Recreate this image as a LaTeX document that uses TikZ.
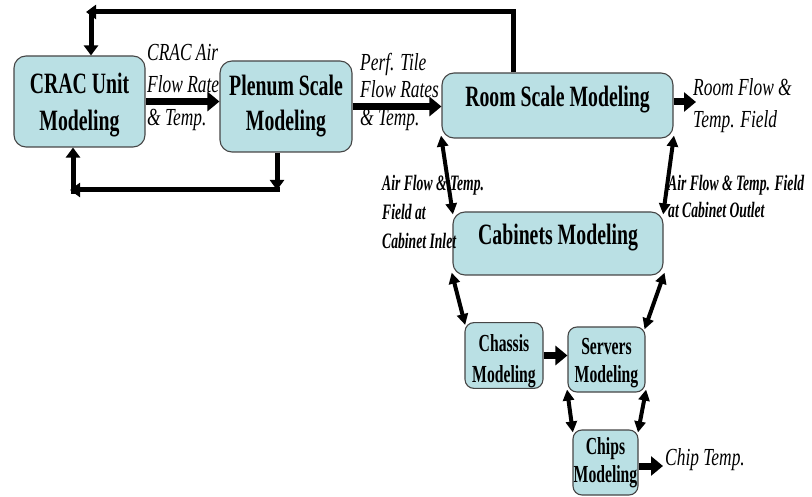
\documentclass[tikz,border=0pt]{standalone}
\usepackage{fontspec}
\setmainfont{Liberation Serif}
% condensed Times-metric faces for the block titles and the flow notes
\newfontfamily\boxfont[FakeStretch=0.67]{Liberation Serif}
\newfontfamily\smallboxfont[FakeStretch=0.64]{Liberation Serif}
\newfontfamily\labelfont[FakeStretch=0.71]{Liberation Serif}
\newfontfamily\notefont[FakeStretch=0.62]{Liberation Serif}
\usetikzlibrary{arrows.meta}
\definecolor{boxfill}{RGB}{186,224,228}
\definecolor{boxline}{RGB}{70,70,70}
% extra room above the first line, to lower two-line titles in their blocks
\newcommand\toppad[1]{\rule{0pt}{#1}}

\begin{document}
\begin{tikzpicture}[x=1pt,y=-1pt,
  block/.style={draw=boxline, line width=1.1pt, fill=boxfill, inner sep=0pt, align=center},
  bigblock/.style={block, rounded corners=12pt,
    font=\boxfont\bfseries\fontsize{29.5}{#1}\selectfont},
  smallblock/.style={block, rounded corners=9pt,
    font=\smallboxfont\bfseries\fontsize{24.5}{#1}\selectfont},
  note/.style={inner sep=0pt, align=left, anchor=north west,
    font=\labelfont\itshape\fontsize{24.5}{#1}\selectfont},
  sidenote/.style={inner sep=0pt, align=left, anchor=north west,
    font=\notefont\bfseries\itshape\fontsize{22}{#1}\selectfont},
  flow/.style={line width=7pt, -{Triangle[length=12pt,width=19pt]}},
  loop/.style={line width=5pt, -{Triangle[length=10pt,width=14pt]}},
  link/.style={line width=4pt, shorten <=-3pt, shorten >=-3pt,
    {Triangle[length=11pt,width=11pt]}-{Triangle[length=11pt,width=11pt]}}
]
\useasboundingbox (0,0) rectangle (812,497);

% modelling blocks
\node[bigblock=37, minimum width=131pt, minimum height=91pt] (crac) at (79.5,101.5)
  {\toppad{27.5pt}CRAC Unit\\Modeling};
\node[bigblock=35, minimum width=132pt, minimum height=91pt] (plenum) at (286,106.5)
  {Plenum Scale\\Modeling};
\node[bigblock=35, minimum width=231pt, minimum height=65pt, text height=12pt, text depth=9pt]
  (room) at (557.5,105.5) {Room Scale Modeling};
\node[bigblock=35, minimum width=210pt, minimum height=63pt, text height=12pt, text depth=9pt]
  (cabinets) at (558,243.5) {Cabinets Modeling};
\node[smallblock=31, minimum width=78pt, minimum height=65pt] (chassis) at (504,355.5)
  {\toppad{29.4pt}Chassis\\Modeling};
\node[smallblock=28, minimum width=77pt, minimum height=65pt] (servers) at (606.5,359.5)
  {\toppad{24.4pt}Servers\\Modeling};
\node[smallblock=28, minimum width=65pt, minimum height=65pt] (chips) at (605.5,462.5)
  {Chips\\Modeling};

% bends and free ends of the connectors
\coordinate (upR) at (513,12);
\coordinate (upL) at (91,12);
\coordinate (upTip) at (86,12);
\coordinate (lowR) at (277,190);
\coordinate (lowRedge) at (279.5,190);
\coordinate (lowL) at (73,194);
\coordinate (lowTip) at (70,190);
\coordinate (roomOut) at (696,102);
\coordinate (chipOut) at (663,466);

% forward chain
\draw[flow] (crac.east) -- (crac.east -| plenum.west);
\draw[flow] (plenum.east) -- (plenum.east -| room.west);
\draw[flow] (room.east |- roomOut) -- (roomOut);
\draw[flow] (chassis.east) -- (chassis.east -| servers.west);
\draw[flow] (chips.east |- chipOut) -- (chipOut);

% feedback loops to the CRAC unit
\draw[loop] (upR |- room.north) -- (upR) -- (upTip);
\draw[loop] (upL) -- (upL |- crac.north);
\draw[loop] (lowR |- plenum.south) -- (lowR);
\draw[loop] (lowRedge) -- (lowTip);
\draw[loop] (lowL) -- (lowL |- crac.south);

% two-way couplings between scales
\draw[link] (room.south west) -- (cabinets.north west);
\draw[link] (room.south east) -- (cabinets.north east);
\draw[link] (cabinets.south west) -- (chassis.north west);
\draw[link] (cabinets.south east) -- (servers.north east);
\draw[link] (servers.south west) -- (chips.north west);
\draw[link] (servers.south east) -- (chips.north east);

% exchanged quantities
\node[note=32.5] (cracflow) at (147,43.6) {CRAC Air\\Flow Rate\\\& Temp.};
\node[note=27.5] (tileflow) at (360,52.6) {Perf. Tile\\Flow Rates\\\& Temp.};
\node[note=32] (roomfield) at (693,78.6) {Room Flow \&\\Temp. Field};
\node[sidenote=29] (inletnote) at (382,175.3) {Air Flow \& Temp.\\Field at\\Cabinet Inlet};
\node[sidenote=27] (outletnote) at (668,175.3) {Air Flow \& Temp. Field\\at Cabinet Outlet};
\node[note=30, anchor=base west] (chiptemp) at (665,465) {Chip Temp.};
\end{tikzpicture}
\end{document}
